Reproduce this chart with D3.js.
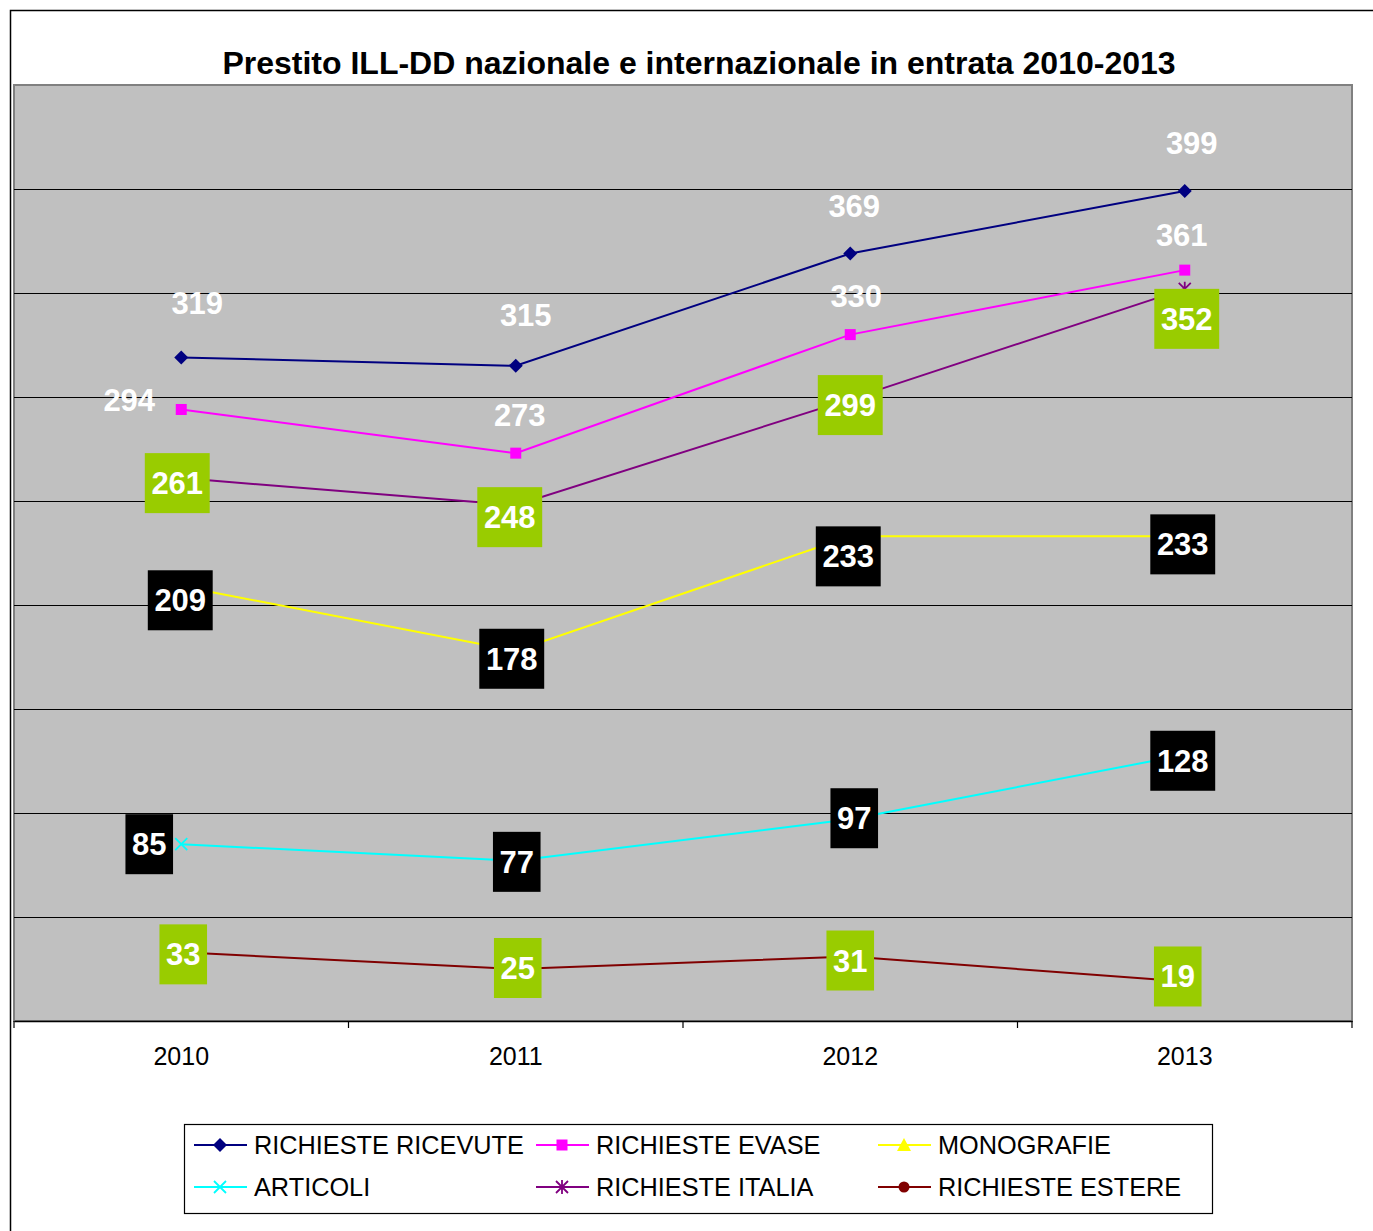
<!DOCTYPE html>
<html>
<head>
<meta charset="utf-8">
<script src="https://cdn.jsdelivr.net/npm/d3@7"></script>
<style>
  body { margin: 0; background: #fff; }
  text { font-family: "Liberation Sans", Arial, sans-serif; }
</style>
</head>
<body>
<script>
var width = 1373, height = 1231;

// dati
var anni = ["2010", "2011", "2012", "2013"];
var ricevute = [319, 315, 369, 399];
var evase = [294, 273, 330, 361];
var monografie = [209, 178, 233, 233];
var articoli = [85, 77, 97, 128];
var italia = [261, 248, 299, 352];
var estere = [33, 25, 31, 19];
var yTicks = [50, 100, 150, 200, 250, 300, 350, 400];

var titolo = "Prestito ILL-DD nazionale e internazionale in entrata 2010-2013";

// serie: nome, valori, colore, simbolo, tipo di etichetta
var serie = [
  {nome: "RICHIESTE RICEVUTE", valori: ricevute, colore: "#000080", sim: "diamond", etich: "plain"},
  {nome: "RICHIESTE EVASE", valori: evase, colore: "#FF00FF", sim: "square", etich: "plain"},
  {nome: "MONOGRAFIE", valori: monografie, colore: "#FFFF00", sim: "triangle", etich: "black"},
  {nome: "ARTICOLI", valori: articoli, colore: "#00FFFF", sim: "x", etich: "black"},
  {nome: "RICHIESTE ITALIA", valori: italia, colore: "#800080", sim: "star", etich: "green"},
  {nome: "RICHIESTE ESTERE", valori: estere, colore: "#800000", sim: "circle", etich: "green"}
];

// spostamenti delle etichette (come spostate a mano in Excel)
var spostamenti = {
  "RICHIESTE RICEVUTE": [[16, -54], [10, -51], [4, -47], [7, -48]],
  "RICHIESTE EVASE": [[-52, -9], [4, -38], [6, -39], [-3, -35]],
  "MONOGRAFIE": [[-1, 14], [-4, 8], [-2, 20], [-2, 8]],
  "ARTICOLI": [[-32, 0], [1, 1], [4, -1], [-2, 6]],
  "RICHIESTE ITALIA": [[-4, 5], [-6, 12], [0, 6], [2, 30]],
  "RICHIESTE ESTERE": [[2, 2], [2, -1], [0, 4], [-7, -5]]
};

var svg = d3.select("body").append("svg")
  .attr("width", width)
  .attr("height", height);

// bordo esterno
svg.append("rect")
  .attr("x", 10.5).attr("y", 10.5)
  .attr("width", 1400).attr("height", 1300)
  .attr("fill", "#fff").attr("stroke", "#000").attr("stroke-width", 1.5);

var pLeft = 14, pRight = 1352, pTop = 85, pBottom = 1021;

var x = d3.scaleBand().domain(anni).range([pLeft, pRight]);
var y = d3.scaleLinear().domain([0, 450]).range([pBottom, pTop]);
function cx(i) { return x(anni[i]) + x.bandwidth() / 2; }

// area del grafico
svg.append("rect")
  .attr("x", pLeft).attr("y", pTop)
  .attr("width", pRight - pLeft).attr("height", pBottom - pTop)
  .attr("fill", "#C0C0C0").attr("stroke", "#808080").attr("stroke-width", 2);

svg.selectAll(".griglia")
  .data(yTicks)
  .enter().append("line")
  .attr("x1", pLeft).attr("x2", pRight)
  .attr("y1", function(d) { return Math.round(y(d)) + 0.5; })
  .attr("y2", function(d) { return Math.round(y(d)) + 0.5; })
  .attr("stroke", "#000").attr("stroke-width", 1.2);

// asse x
var asseX = svg.append("g")
  .attr("transform", "translate(0," + pBottom + ")")
  .call(d3.axisBottom(x).tickSize(0).tickPadding(26));
asseX.select(".domain").attr("stroke", "#000").attr("stroke-width", 1.5);
asseX.selectAll("text")
  .attr("font-size", 25).attr("fill", "#000")
  .style("font-family", "'Liberation Sans', Arial, sans-serif");

var confini = anni.map(function(a) { return x(a); }).concat([pRight]);
svg.selectAll(".tacca")
  .data(confini)
  .enter().append("line")
  .attr("x1", function(d) { return d; }).attr("x2", function(d) { return d; })
  .attr("y1", pBottom).attr("y2", pBottom + 7)
  .attr("stroke", "#000").attr("stroke-width", 1.2);

// titolo
svg.append("text")
  .attr("x", 699).attr("y", 74)
  .attr("text-anchor", "middle")
  .attr("font-size", 32).attr("font-weight", "bold")
  .text(titolo);

// simboli
function simbolo(g, tipo, colore) {
  if (tipo === "diamond") {
    g.append("path").attr("d", "M0,-7L7,0L0,7L-7,0Z").attr("fill", colore);
  } else if (tipo === "square") {
    g.append("rect").attr("x", -5.5).attr("y", -5.5).attr("width", 11).attr("height", 11).attr("fill", colore);
  } else if (tipo === "triangle") {
    g.append("path").attr("d", "M0,-7L7,6L-7,6Z").attr("fill", colore);
  } else if (tipo === "circle") {
    g.append("circle").attr("r", 5.5).attr("fill", colore);
  } else if (tipo === "x") {
    g.append("path").attr("d", "M-6,-6L6,6M-6,6L6,-6").attr("stroke", colore).attr("stroke-width", 1.8);
  } else if (tipo === "star") {
    g.append("path").attr("d", "M-6,-6L6,6M-6,6L6,-6M0,-7L0,7").attr("stroke", colore).attr("stroke-width", 1.8);
  }
}

var linea = d3.line()
  .x(function(d, i) { return cx(i); })
  .y(function(d) { return y(d); });

serie.forEach(function(s) {
  svg.append("path")
    .datum(s.valori)
    .attr("d", linea)
    .attr("fill", "none")
    .attr("stroke", s.colore)
    .attr("stroke-width", 2);
  s.valori.forEach(function(v, i) {
    var g = svg.append("g").attr("transform", "translate(" + cx(i) + "," + y(v) + ")");
    simbolo(g, s.sim, s.colore);
  });
});

// etichette dei valori
serie.forEach(function(s) {
  s.valori.forEach(function(v, i) {
    var off = spostamenti[s.nome][i];
    var lx = cx(i) + off[0], ly = y(v) + off[1];
    var testo = String(v);
    if (s.etich !== "plain") {
      var w = testo.length * 17.3 + 13;
      svg.append("rect")
        .attr("x", lx - w / 2).attr("y", ly - 30)
        .attr("width", w).attr("height", 60)
        .attr("fill", s.etich === "green" ? "#99CC00" : "#000");
    }
    svg.append("text")
      .attr("x", lx).attr("y", ly + 11)
      .attr("text-anchor", "middle")
      .attr("font-size", 31).attr("font-weight", "bold")
      .attr("fill", "#fff")
      .text(testo);
  });
});

// legenda
var leg = svg.append("g");
leg.append("rect")
  .attr("x", 184.5).attr("y", 1124.5)
  .attr("width", 1028).attr("height", 89)
  .attr("fill", "#fff").attr("stroke", "#000").attr("stroke-width", 1.2);

var colX = [194, 536, 878], rigaY = [1145, 1187];
serie.forEach(function(s, i) {
  var gx = colX[i % 3], gy = rigaY[Math.floor(i / 3)];
  var g = leg.append("g").attr("transform", "translate(" + gx + "," + gy + ")");
  g.append("line").attr("x1", 0).attr("x2", 53).attr("y1", 0).attr("y2", 0)
    .attr("stroke", s.colore).attr("stroke-width", 2);
  var m = g.append("g").attr("transform", "translate(26,0)");
  simbolo(m, s.sim, s.colore);
  g.append("text")
    .attr("x", 60).attr("y", 9)
    .attr("font-size", 25.3)
    .text(s.nome);
});
</script>
</body>
</html>
